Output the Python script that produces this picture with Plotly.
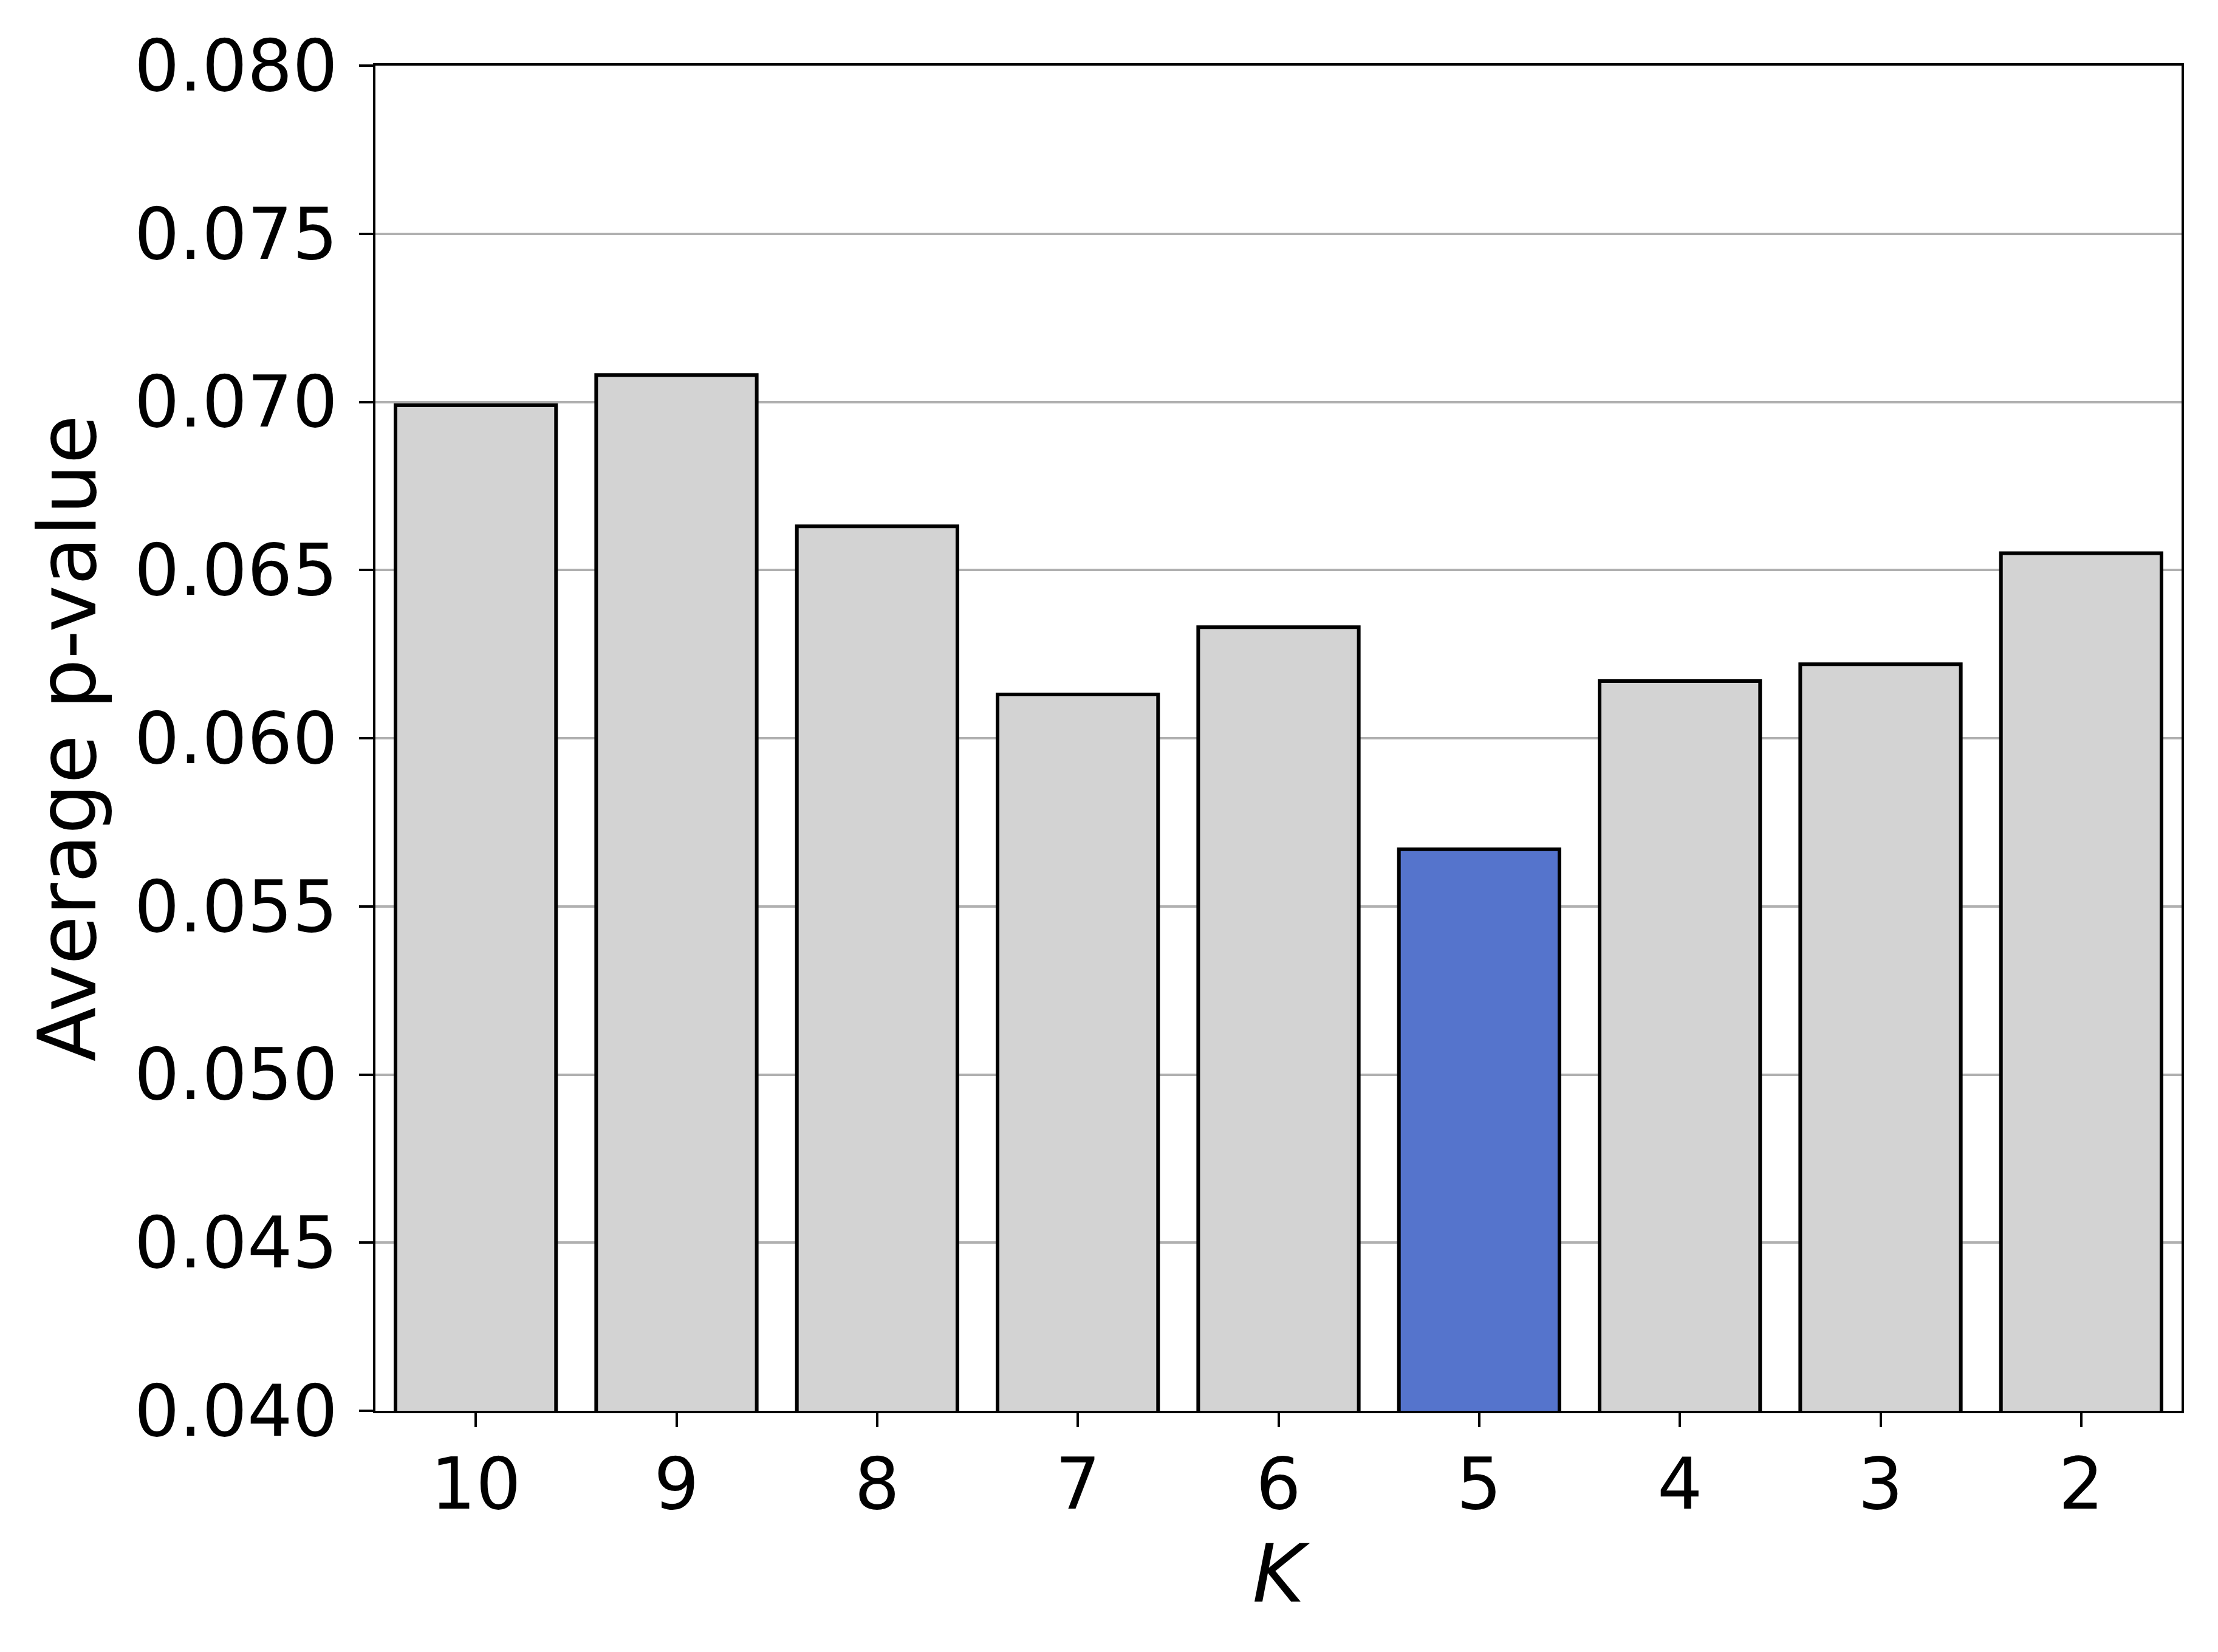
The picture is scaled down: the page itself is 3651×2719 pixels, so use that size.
import plotly.graph_objects as go

# values
k_labels = ["10", "9", "8", "7", "6", "5", "4", "3", "2"]
avg_p = [0.0699, 0.0708, 0.0663, 0.0613, 0.0633, 0.0567, 0.0617, 0.0622, 0.0655]
best_k = "5"

y_ticks = [0.040, 0.045, 0.050, 0.055, 0.060, 0.065, 0.070, 0.075, 0.080]

GREY = "#d3d3d3"
BLUE = "#5574cc"
FONT = "DejaVu Sans"

colors = [BLUE if k == best_k else GREY for k in k_labels]

fig = go.Figure(
    go.Bar(
        x=k_labels,
        y=avg_p,
        width=0.8,
        marker=dict(color=colors, line=dict(color="black", width=6)),
        showlegend=False,
    )
)

fig.update_xaxes(
    type="category",
    range=[-0.5, 8.5],
    showline=True,
    mirror=True,
    linecolor="black",
    linewidth=3.5,
    ticks="outside",
    ticklen=23,
    tickwidth=3.5,
    tickcolor="black",
    showgrid=False,
    ticklabelstandoff=-6,
    tickfont=dict(family=FONT, size=117, color="black"),
    title=dict(text="<i>K</i>", font=dict(family=FONT, size=131, color="black"), standoff=35),
)
fig.update_yaxes(
    range=[0.040, 0.080],
    tickvals=y_ticks,
    tickformat=".3f",
    showline=True,
    mirror=True,
    linecolor="black",
    linewidth=3.5,
    ticks="outside",
    ticklen=23,
    tickwidth=3.5,
    tickcolor="black",
    showgrid=True,
    gridcolor="#b0b0b0",
    gridwidth=3.5,
    zeroline=False,
    ticklabelstandoff=12,
    tickfont=dict(family=FONT, size=117, color="black"),
    title=dict(text="Average p-value", font=dict(family=FONT, size=131, color="black"), standoff=20),
)

fig.update_layout(
    width=3651,
    height=2719,
    autosize=False,
    margin=dict(l=610, r=68, t=100, b=405),
    plot_bgcolor="white",
    paper_bgcolor="white",
    bargap=0.2,
)

fig.write_html("out.html")
